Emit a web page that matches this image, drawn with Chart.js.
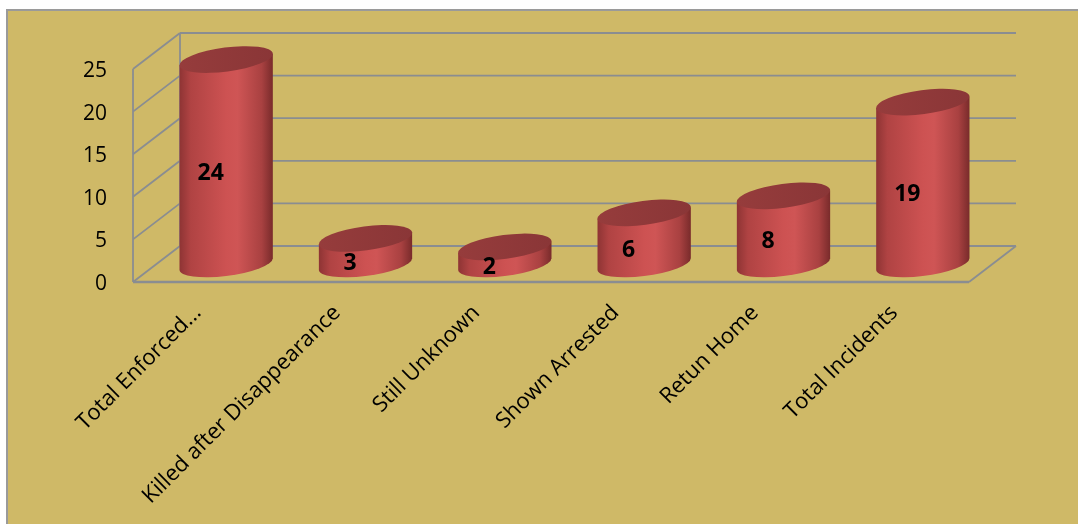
<!DOCTYPE html>
<html>
<head>
<meta charset="utf-8">
<script src="https://cdn.jsdelivr.net/npm/chart.js@4.4.1/dist/chart.umd.min.js"></script>
<style>
  html, body { margin: 0; padding: 0; background: #ffffff; }
  #wrap { width: 1078px; height: 524px; position: relative; }
</style>
</head>
<body>
<div id="wrap"><canvas id="c" width="1078" height="524"></canvas></div>
<script>
const categories = ["Total Enforced...", "Killed after Disappearance", "Still Unknown", "Shown Arrested", "Retun Home", "Total Incidents"];
const values = [24, 3, 2, 6, 8, 19];
const yTicks = [0, 5, 10, 15, 20, 25];

const BG = '#cfb967';
const GRID = '#8a8d91';
const DEPTH_X = 47, DEPTH_Y = -36;
const FONT = '"Open Sans", Lato, sans-serif';

const framePlugin = {
  id: 'frame3d',
  beforeDraw(chart) {
    const ctx = chart.ctx;
    const y = chart.scales.y, x = chart.scales.x;
    const L = x.left, R = x.right;
    ctx.save();
    ctx.fillStyle = '#ffffff';
    ctx.fillRect(0, 0, chart.width, chart.height);
    ctx.fillStyle = BG;
    ctx.fillRect(7, 10, chart.width, chart.height);
    ctx.strokeStyle = '#9a9a9a';
    ctx.lineWidth = 2;
    ctx.beginPath();
    ctx.moveTo(7, chart.height + 5); ctx.lineTo(7, 10); ctx.lineTo(chart.width + 5, 10);
    ctx.stroke();

    ctx.strokeStyle = GRID;
    ctx.lineWidth = 1.8;
    ctx.beginPath();
    yTicks.forEach(v => {
      const py = y.getPixelForValue(v);
      ctx.moveTo(L, py); ctx.lineTo(L + DEPTH_X, py + DEPTH_Y);
      ctx.moveTo(L + DEPTH_X, py + DEPTH_Y); ctx.lineTo(R + DEPTH_X, py + DEPTH_Y);
    });
    const yTop = y.getPixelForValue(yTicks[yTicks.length - 1]);
    const y0 = y.getPixelForValue(0);
    ctx.moveTo(L, yTop); ctx.lineTo(L, y0);
    ctx.moveTo(L + DEPTH_X, yTop + DEPTH_Y); ctx.lineTo(L + DEPTH_X, y0 + DEPTH_Y);
    ctx.moveTo(R, y0); ctx.lineTo(R + DEPTH_X, y0 + DEPTH_Y);
    ctx.stroke();
    ctx.lineWidth = 2.6;
    ctx.beginPath();
    ctx.moveTo(L, y0); ctx.lineTo(R, y0);
    ctx.stroke();
    ctx.restore();
  },
  afterDatasetsDraw(chart) {
    const ctx = chart.ctx;
    const meta = chart.getDatasetMeta(0);
    const th = -0.13;
    ctx.save();
    meta.data.forEach((el, i) => {
      const a = el.width / 2, b = 12;
      const cx = el.x + DEPTH_X / 2;
      const yt = el.y + DEPTH_Y / 2;
      const yb = el.base + DEPTH_Y / 2;
      const t0 = Math.atan2(-b * Math.sin(th), a * Math.cos(th));
      const px = a * Math.cos(t0) * Math.cos(th) - b * Math.sin(t0) * Math.sin(th);
      const py = a * Math.cos(t0) * Math.sin(th) + b * Math.sin(t0) * Math.cos(th);
      const g = ctx.createLinearGradient(cx - px, 0, cx + px, 0);
      g.addColorStop(0, '#8e3434');
      g.addColorStop(0.12, '#b04343');
      g.addColorStop(0.5, '#cd5252');
      g.addColorStop(0.62, '#cf5555');
      g.addColorStop(0.88, '#a94141');
      g.addColorStop(1, '#792b2b');
      ctx.fillStyle = g;
      ctx.beginPath();
      ctx.ellipse(cx, yb, a, b, th, t0, t0 + Math.PI, false);
      ctx.lineTo(cx - px, yt - py);
      ctx.lineTo(cx + px, yt + py);
      ctx.closePath();
      ctx.fill();
      const gc = ctx.createLinearGradient(cx - px, 0, cx + px, 0);
      gc.addColorStop(0, '#963c3c');
      gc.addColorStop(1, '#8a3637');
      ctx.fillStyle = gc;
      ctx.beginPath();
      ctx.ellipse(cx, yt, a, b, th, 0, Math.PI * 2);
      ctx.fill();
    });
    ctx.fillStyle = '#000000';
    ctx.font = 'bold 23px ' + FONT;
    ctx.textAlign = 'center';
    ctx.textBaseline = 'middle';
    meta.data.forEach((el, i) => {
      const lx = el.x + DEPTH_X * 0.17;
      const ly = (el.y + el.base) / 2 + DEPTH_Y * 0.17;
      ctx.fillText(String(values[i]), lx, ly);
    });
    ctx.restore();
  }
};

new Chart(document.getElementById('c'), {
  type: 'bar',
  data: {
    labels: categories,
    datasets: [{
      data: values,
      backgroundColor: 'rgba(0,0,0,0)',
      borderWidth: 0,
      barPercentage: 0.675,
      categoryPercentage: 1
    }]
  },
  options: {
    responsive: false,
    animation: false,
    devicePixelRatio: 1,
    layout: { padding: { top: 69, right: 109, left: 0, bottom: 0 } },
    plugins: { legend: { display: false }, tooltip: { enabled: false } },
    scales: {
      x: {
        grid: { display: false, drawTicks: false },
        border: { display: false },
        ticks: {
          color: '#000000',
          font: { family: FONT, size: 22 },
          minRotation: 45, maxRotation: 45,
          autoSkip: false,
          padding: 18,
          labelOffset: -5
        },
        afterFit(scale) { scale.height = 524 - 282; }
      },
      y: {
        min: 0, max: 25,
        afterBuildTicks(scale) { scale.ticks = yTicks.map(v => ({ value: v })); },
        grid: { display: false, drawTicks: false },
        border: { display: false },
        ticks: {
          color: '#000000',
          font: { family: FONT, size: 21 },
          padding: 26,
          labelOffset: 2
        },
        afterFit(scale) { scale.width = 133; }
      }
    }
  },
  plugins: [framePlugin]
});
</script>
</body>
</html>
